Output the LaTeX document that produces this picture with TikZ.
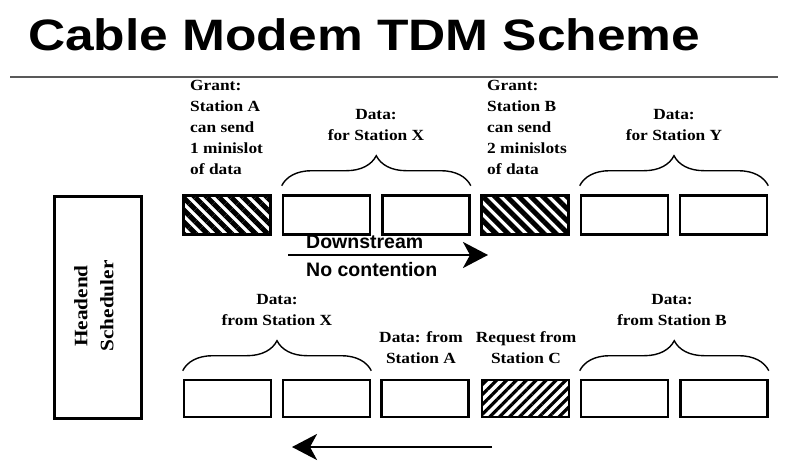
\documentclass[tikz,border=0pt]{standalone}
\usepackage{fontspec}
\setmainfont{Liberation Serif}
\newfontfamily\arialf{Liberation Sans}
\newfontfamily\scanf[FakeStretch=1.12]{Liberation Serif}
\usetikzlibrary{patterns.meta,decorations.pathreplacing,arrows.meta}
\begin{document}
\begin{tikzpicture}[x=1pt,y=-1pt,
 slot/.style={draw=black,line width=2.6pt,minimum width=87pt,minimum height=39pt,inner sep=0pt},
 lowslot/.style={slot,minimum height=37pt},
 grant/.style={pattern={Lines[angle=-45,distance=8.5pt,line width=5pt]}},
 req/.style={pattern={Lines[angle=45,distance=7pt,line width=3.2pt]}},
 lbl/.style={font=\scanf\bfseries\fontsize{15.5}{21}\selectfont,inner sep=0pt},
 brc/.style={decorate,decoration={brace,amplitude=30pt},line width=1.4pt},
 flow/.style={line width=2.6pt,-{Stealth[length=25pt,width=26pt,inset=7pt]}},
 sans/.style={font=\arialf\bfseries\fontsize{19.5}{24}\selectfont,inner sep=0pt,anchor=base west}
]
\useasboundingbox[fill=white] (0,0) rectangle (790,471);
% title
\node[anchor=base west,inner sep=0pt,font=\arialf\bfseries\fontsize{44}{50}\selectfont] (title) at (28,50) {\scalebox{1.17}[1]{Cable Modem TDM Scheme}};
\draw[line width=1.6pt,black!65] (10,77) -- (778,77);
% headend
\node[draw,line width=2.6pt,minimum width=87pt,minimum height=222pt,inner sep=0pt] (he) at (98,307.5) {};
\node[rotate=90,align=center,inner sep=0pt,font=\scanf\bfseries\fontsize{19}{26}\selectfont] (het) at (94,306) {Headend\\Scheduler};
% top row
\node[slot,grant] (t1) at (227,215) {};
\node[slot] (t2) at (326.5,215) {};
\node[slot] (t3) at (426,215) {};
\node[slot,grant] (t4) at (525,215) {};
\node[slot] (t5) at (624.5,215) {};
\node[slot] (t6) at (723.5,215) {};
% bottom row
\node[lowslot] (b1) at (227.5,398.5) {};
\node[lowslot] (b2) at (326.5,398.5) {};
\node[lowslot] (b3) at (425,398.5) {};
\node[lowslot,req] (b4) at (525.5,398.5) {};
\node[lowslot] (b5) at (624.5,398.5) {};
\node[lowslot] (b6) at (724,398.5) {};
% braces
\draw[brc] ([yshift=8.5pt]t2.north west) -- ([yshift=8.5pt]t3.north east);
\draw[brc] ([yshift=8.5pt]t5.north west) -- ([yshift=8.5pt]t6.north east);
\draw[brc] ([yshift=8pt]b1.north west) -- ([yshift=8pt]b2.north east);
\draw[brc] ([yshift=8pt]b5.north west) -- ([yshift=8pt]b6.north east);
% labels
\node[lbl,align=left,anchor=north west] (ga) at (190,80) {Grant:\\Station A\\can send\\1 minislot\\of data};
\node[lbl,align=left,anchor=north west] (gb) at (487,80) {Grant:\\Station B\\can send\\2 minislots\\of data};
\node[lbl,align=center,anchor=north] (dx) at (376,109) {Data:\\for Station X};
\node[lbl,align=center,anchor=north] (dy) at (674,109) {Data:\\for Station Y};
\node[lbl,align=center,anchor=north] (fx) at (277,294) {Data:\\from Station X};
\node[lbl,align=center,anchor=north] (fa) at (421,331) {Data: from\\Station A};
\node[lbl,align=center,anchor=north] (rc) at (526,331) {Request from\\Station C};
\node[lbl,align=center,anchor=north] (fb) at (672,294) {Data:\\from Station B};
% arrows
\coordinate (ds) at (288,255);
\coordinate (de) at (488,255);
\draw[flow] (ds) -- (de);
\coordinate (us) at (492,447);
\coordinate (ue) at (292,447);
\draw[flow] (us) -- (ue);
\node[sans] (dst) at (306,248) {Downstream};
\node[sans] (nct) at (306,276) {No contention};
\end{tikzpicture}
\end{document}
